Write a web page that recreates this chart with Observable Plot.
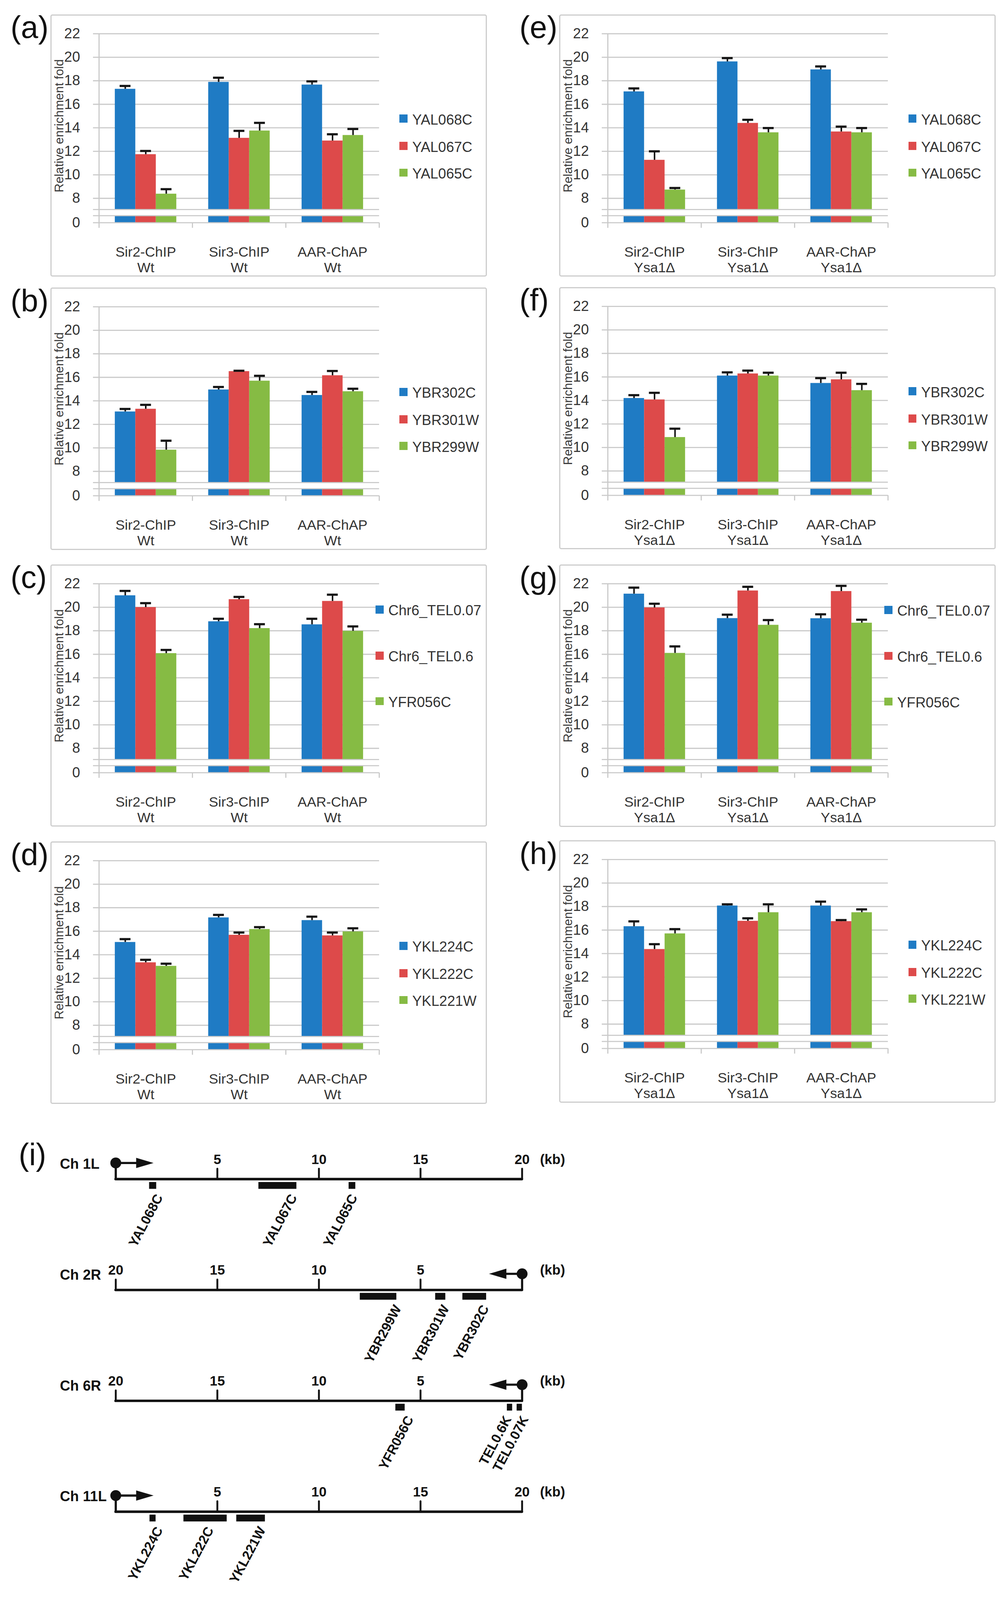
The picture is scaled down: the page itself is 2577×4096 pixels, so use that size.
<!DOCTYPE html>
<html>
<head>
<meta charset="utf-8">
<script src="https://cdn.jsdelivr.net/npm/d3@7"></script>
<script src="https://cdn.jsdelivr.net/npm/@observablehq/plot@0.6"></script>
<style>
html,body{margin:0;padding:0;background:#fff;}
body{position:relative;width:2577px;height:4096px;overflow:hidden;font-family:"Liberation Sans",Arial,Helvetica,sans-serif;}
.frame{position:absolute;border:3px solid #cdcdcd;border-radius:5px;box-sizing:border-box;pointer-events:none;}
.plabel{position:absolute;line-height:1;color:#111;white-space:nowrap;}
.leg-sq{position:absolute;}
.leg-tx{position:absolute;line-height:1;color:#333;white-space:nowrap;}
</style>
</head>
<body>
<script>
const S = 0.795;
const px = v => v * S;

// ---------------- data: bar panels ----------------
const categories = ["Sir2-ChIP", "Sir3-ChIP", "AAR-ChAP"];
const strainWt = "Wt";
const strainDel = "Ysa1\u0394";
const yTicks = [0, 8, 10, 12, 14, 16, 18, 20, 22];
const yGrid = [8, 10, 12, 14, 16, 18, 20, 22];
const yBreak = [0.6, 7.05];
const yMax = 22;
const yTitle = "Relative enrichment fold";

const seriesChr1 = ["YAL068C", "YAL067C", "YAL065C"];
const seriesChr2 = ["YBR302C", "YBR301W", "YBR299W"];
const seriesChr6 = ["Chr6_TEL0.07", "Chr6_TEL0.6", "YFR056C"];
const seriesChr11 = ["YKL224C", "YKL222C", "YKL221W"];

// rows = categories, columns = series
const valuesA = [[17.30, 11.74, 8.38], [17.89, 13.13, 13.75], [17.66, 12.90, 13.37]];
const errorsA = [[0.26, 0.29, 0.40], [0.37, 0.61, 0.67], [0.29, 0.55, 0.53]];
const valuesB = [[13.08, 13.31, 9.83], [14.95, 16.51, 15.70], [14.48, 16.16, 14.80]];
const errorsB = [[0.23, 0.35, 0.78], [0.23, 0.05, 0.43], [0.28, 0.38, 0.23]];
const valuesC = [[21.00, 20.00, 16.08], [18.79, 20.67, 18.21], [18.53, 20.52, 17.98]];
const errorsC = [[0.39, 0.35, 0.29], [0.23, 0.21, 0.35], [0.49, 0.55, 0.39]];
const valuesD = [[15.07, 13.34, 13.04], [17.16, 15.68, 16.17], [16.93, 15.63, 15.97]];
const errorsD = [[0.26, 0.23, 0.20], [0.23, 0.21, 0.18], [0.31, 0.26, 0.28]];
const valuesE = [[17.08, 11.26, 8.73], [19.63, 14.40, 13.60], [18.95, 13.67, 13.60]];
const errorsE = [[0.27, 0.74, 0.15], [0.30, 0.28, 0.38], [0.27, 0.43, 0.38]];
const valuesF = [[14.19, 14.07, 10.87], [16.10, 16.28, 16.10], [15.47, 15.78, 14.86]];
const errorsF = [[0.26, 0.58, 0.73], [0.29, 0.26, 0.26], [0.43, 0.58, 0.55]];
const valuesG = [[21.14, 19.97, 16.10], [19.06, 21.41, 18.49], [19.05, 21.36, 18.67]];
const errorsG = [[0.53, 0.33, 0.57], [0.31, 0.33, 0.42], [0.35, 0.46, 0.27]];
const valuesH = [[16.31, 14.37, 15.70], [18.07, 16.77, 17.50], [18.07, 16.74, 17.50]];
const errorsH = [[0.43, 0.43, 0.38], [0.12, 0.23, 0.69], [0.35, 0.11, 0.26]];

// ---------------- data: chromosome map (i) ----------------
const chromosomes = ["Ch 1L", "Ch 2R", "Ch 6R", "Ch 11L"];
const chromArms = ["L", "R", "R", "L"];
const chromSpanKb = 20;
const kbTicks = [5, 10, 15, 20];
const kbUnit = "(kb)";
const promoterArrowKb = [1.86, 1.63, 1.63, 1.86];
const mapGenes = ["YAL068C", "YAL067C", "YAL065C", "YBR299W", "YBR301W", "YBR302C", "YFR056C", "TEL0.6K", "TEL0.07K", "YKL224C", "YKL222C", "YKL221W"];
const mapGeneChrom = [0, 0, 0, 1, 1, 1, 2, 2, 2, 3, 3, 3];
const mapGeneStartKb = [1.65, 7.03, 11.47, 6.18, 3.77, 1.76, 5.77, 0.48, 0.00, 1.67, 3.34, 5.94];
const mapGeneEndKb = [2.00, 8.90, 11.80, 7.98, 4.27, 2.93, 6.23, 0.74, 0.26, 1.97, 5.47, 7.35];
const mapLabelKb = [1.92, 8.53, 11.50, 6.34, 3.98, 2.03, 5.74, 0.92, 0.08, 1.92, 4.42, 6.98];

// ---------------- styles / layout ----------------
const seriesColors = ["#1f7bc4", "#dd4a4a", "#86bb44"];
const gridColor = "#c9c9c9";
const textColor = "#333";
const fontFamily = "'Liberation Sans', Arial, Helvetica, sans-serif";

const G = {W: 1405, H: 845, plotL: 156, plotR: 1058, y22: 61.5, unit: 37.86, y0: 670, frameBottom: 654.5,
  barW: 66, capW: 35, tickDown: 17, gridExt: 19};
const legendLayouts = {
  std: {sqX: 1124, txX: 1165, rows: [340, 428, 514]},
  tel: {sqX: 1047, txX: 1088, rows: [150, 298, 445]}
};
const panels = [
  {tag: "(a)", left: 162, top: 46, series: seriesChr1, values: valuesA, errors: errorsA, strain: strainWt, legend: "std"},
  {tag: "(b)", left: 162, top: 926, series: seriesChr2, values: valuesB, errors: errorsB, strain: strainWt, legend: "std"},
  {tag: "(c)", left: 162, top: 1817, series: seriesChr6, values: valuesC, errors: errorsC, strain: strainWt, legend: "tel"},
  {tag: "(d)", left: 162, top: 2710, series: seriesChr11, values: valuesD, errors: errorsD, strain: strainWt, legend: "std"},
  {tag: "(e)", left: 1800, top: 46, series: seriesChr1, values: valuesE, errors: errorsE, strain: strainDel, legend: "std"},
  {tag: "(f)", left: 1800, top: 924, series: seriesChr2, values: valuesF, errors: errorsF, strain: strainDel, legend: "std"},
  {tag: "(g)", left: 1800, top: 1818, series: seriesChr6, values: valuesG, errors: errorsG, strain: strainDel, legend: "tel"},
  {tag: "(h)", left: 1800, top: 2706, series: seriesChr11, values: valuesH, errors: errorsH, strain: strainDel, legend: "std"}
];

function place(el, left, top) {
  el.style.position = "absolute";
  el.style.left = left + "px";
  el.style.top = top + "px";
  document.body.appendChild(el);
  return el;
}
function addLabel(text, left, top) {
  const d = document.createElement("div");
  d.className = "plabel";
  d.textContent = text;
  d.style.fontSize = px(100) + "px";
  place(d, px(left), px(top));
}

function drawPanel(p) {
  const band = (G.plotR - G.plotL) / categories.length;
  const rows = [];
  p.values.forEach((vals, ci) => vals.forEach((v, si) => rows.push({
    cat: categories[ci], si, value: v, hi: v + p.errors[ci][si]
  })));
  const segs = rows.flatMap(r => [
    {...r, y1: yBreak[1], y2: r.value},
    {...r, y1: 0, y2: yBreak[0]}
  ]);
  const barInset = px((band - G.barW) / 2);
  const capInset = px((band - G.capW) / 2);
  const yRange = [G.y0, G.y0 - yBreak[0] * G.unit, G.y22 + (yMax - yBreak[1]) * G.unit, G.y22].map(px);

  const marks = [
    Plot.ruleY(yGrid, {y: d => d, stroke: gridColor, strokeWidth: px(3.6), insetLeft: -px(G.gridExt)}),
    ...p.series.map((s, si) => Plot.barY(segs.filter(d => d.si === si), {
      x: "cat", y1: "y1", y2: "y2", fill: seriesColors[si],
      insetLeft: barInset, insetRight: barInset, dx: px((si - 1) * G.barW)
    })),
    Plot.ruleY([0, ...yBreak], {y: d => d, stroke: gridColor, strokeWidth: px(3.6), insetLeft: -px(G.gridExt)}),
    Plot.ruleX(categories.slice(0, 1), {x: d => d, y1: yMax, y2: 0, insetBottom: -px(G.tickDown), dx: -px(band / 2), stroke: gridColor, strokeWidth: px(3.6)}),
    Plot.ruleX(categories.slice(1), {x: d => d, y1: 0, y2: 0, insetBottom: -px(G.tickDown), dx: -px(band / 2), stroke: gridColor, strokeWidth: px(3.6)}),
    Plot.ruleX(categories.slice(-1), {x: d => d, y1: 0, y2: 0, insetBottom: -px(G.tickDown), dx: px(band / 2), stroke: gridColor, strokeWidth: px(3.6)}),
    ...p.series.map((s, si) => Plot.ruleX(rows.filter(d => d.si === si), {
      x: "cat", y1: "value", y2: "hi", dx: px((si - 1) * G.barW), stroke: "#151515", strokeWidth: px(5)
    })),
    ...p.series.map((s, si) => Plot.tickY(rows.filter(d => d.si === si), {
      x: "cat", y: "hi", dx: px((si - 1) * G.barW), insetLeft: capInset, insetRight: capInset,
      stroke: "#151515", strokeWidth: px(7)
    })),
    Plot.axisY(yTicks, {tickSize: 0, tickPadding: px(61), fontSize: px(46), fill: textColor, label: null}),
    Plot.text([yTitle], {text: d => d, frameAnchor: "left", rotate: -90, textAnchor: "middle", lineAnchor: "middle",
      dx: px(28 - G.plotL), fontSize: px(40), fill: "#3a3a3a"}),
    Plot.text(categories, {x: d => d, text: d => d + "\n" + p.strain, frameAnchor: "bottom", lineAnchor: "top",
      dy: px(89), lineHeight: 1.12, fontSize: px(45), fill: textColor})
  ];

  const svg = Plot.plot({
    width: px(G.W), height: px(G.H),
    marginLeft: px(G.plotL), marginRight: px(G.W - G.plotR),
    marginTop: px(G.y22), marginBottom: px(G.H - G.frameBottom),
    x: {type: "band", domain: categories, padding: 0, axis: null},
    y: {type: "linear", domain: [0, yBreak[0], yBreak[1], yMax], range: yRange},
    style: {fontFamily, background: "transparent", overflow: "visible", color: textColor},
    marks
  });
  place(svg, px(p.left), px(p.top));

  const fr = document.createElement("div");
  fr.className = "frame";
  fr.style.width = px(G.W) + "px";
  fr.style.height = px(G.H) + "px";
  place(fr, px(p.left), px(p.top));

  const L = legendLayouts[p.legend];
  p.series.forEach((s, si) => {
    const sq = document.createElement("div");
    sq.className = "leg-sq";
    sq.style.width = px(26) + "px";
    sq.style.height = px(26) + "px";
    sq.style.background = seriesColors[si];
    place(sq, px(p.left + L.sqX), px(p.top + L.rows[si] - 17));
    const tx = document.createElement("div");
    tx.className = "leg-tx";
    tx.textContent = s;
    tx.style.fontSize = px(46) + "px";
    place(tx, px(p.left + L.txX), px(p.top + L.rows[si] - 23));
  });
  addLabel(p.tag, p.left - 128, p.top - 8);
}

panels.forEach(drawPanel);

// ---------------- panel (i): chromosome map ----------------
(function drawMap() {
  const disp = (ci, kb) => chromArms[ci] === "R" ? chromSpanKb - kb : kb;
  const rows = chromosomes.map((name, i) => ({
    i, name, arm: chromArms[i], origin: disp(i, 0), tip: disp(i, promoterArrowKb[i])
  }));
  const rowsL = rows.filter(r => r.arm === "L");
  const rowsR = rows.filter(r => r.arm === "R");
  const ticks = rows.flatMap(r => kbTicks.map(k => ({i: r.i, k, x: disp(r.i, k)})));
  const genes = mapGenes.map((g, j) => {
    const c = mapGeneChrom[j];
    return {name: g, i: c, x1: disp(c, mapGeneStartKb[j]), x2: disp(c, mapGeneEndKb[j]), lx: disp(c, mapLabelKb[j])};
  });
  const headLen = px(56), headHalf = px(16.5);
  const headRight = {draw(ctx) { ctx.moveTo(0, 0); ctx.lineTo(-headLen, -headHalf); ctx.lineTo(-headLen, headHalf); ctx.closePath(); }};
  const headLeft = {draw(ctx) { ctx.moveTo(0, 0); ctx.lineTo(headLen, -headHalf); ctx.lineTo(headLen, headHalf); ctx.closePath(); }};
  const ink = "#111";
  const up = px(52);
  const svg = Plot.plot({
    width: px(1900), height: px(1511),
    marginLeft: px(372), marginRight: px(1900 - 1680), marginTop: 0, marginBottom: 0,
    x: {type: "linear", domain: [0, chromSpanKb], axis: null},
    y: {type: "linear", domain: [0, 3], range: [156, 1227].map(px), axis: null},
    style: {fontFamily, background: "transparent", overflow: "visible", color: ink},
    marks: [
      Plot.ruleY(rows, {y: "i", x1: 0, x2: chromSpanKb, stroke: ink, strokeWidth: px(8), strokeLinecap: "round"}),
      Plot.ruleX(ticks, {x: "x", y1: "i", y2: "i", insetTop: -px(33), stroke: ink, strokeWidth: px(6), strokeLinecap: "round"}),
      Plot.ruleX(rows, {x: "origin", y1: "i", y2: "i", insetTop: -up, stroke: ink, strokeWidth: px(7), strokeLinecap: "round"}),
      Plot.dot(rows, {x: "origin", y: "i", dy: -up, r: px(17.5), fill: ink}),
      Plot.ruleY(rowsL, {y: "i", x1: "origin", x2: "tip", insetRight: px(24), dy: -up, stroke: ink, strokeWidth: px(7)}),
      Plot.ruleY(rowsR, {y: "i", x1: "origin", x2: "tip", insetRight: -px(24), dy: -up, stroke: ink, strokeWidth: px(7)}),
      Plot.dot(rowsL, {x: "tip", y: "i", dy: -up, symbol: headRight, r: 1, fill: ink, stroke: null}),
      Plot.dot(rowsR, {x: "tip", y: "i", dy: -up, symbol: headLeft, r: 1, fill: ink, stroke: null}),
      Plot.text(ticks, {x: "x", y: "i", text: d => String(d.k), dy: -px(63), fontSize: px(44), fontWeight: "bold", fill: ink}),
      Plot.text(rows, {x: chromSpanKb, y: "i", text: () => kbUnit, dx: px(98), dy: -px(63), fontSize: px(44), fontWeight: "bold", fill: ink}),
      Plot.text(rows, {x: 0, y: "i", text: "name", textAnchor: "start", dx: px(192 - 372), dy: -px(48), fontSize: px(46), fontWeight: "bold", fill: ink}),
      Plot.rect(genes, {x1: "x1", x2: "x2", y1: "i", y2: "i", insetTop: px(10), insetBottom: -px(32), fill: ink}),
      Plot.text(genes, {x: "lx", y: "i", text: "name", rotate: -62, textAnchor: "end", lineAnchor: "top",
        dy: px(44), fontSize: px(43), fontWeight: "bold", fill: ink})
    ]
  });
  place(svg, 0, px(3640));
  addLabel("(i)", 60, 3668);
})();
</script>
</body>
</html>
